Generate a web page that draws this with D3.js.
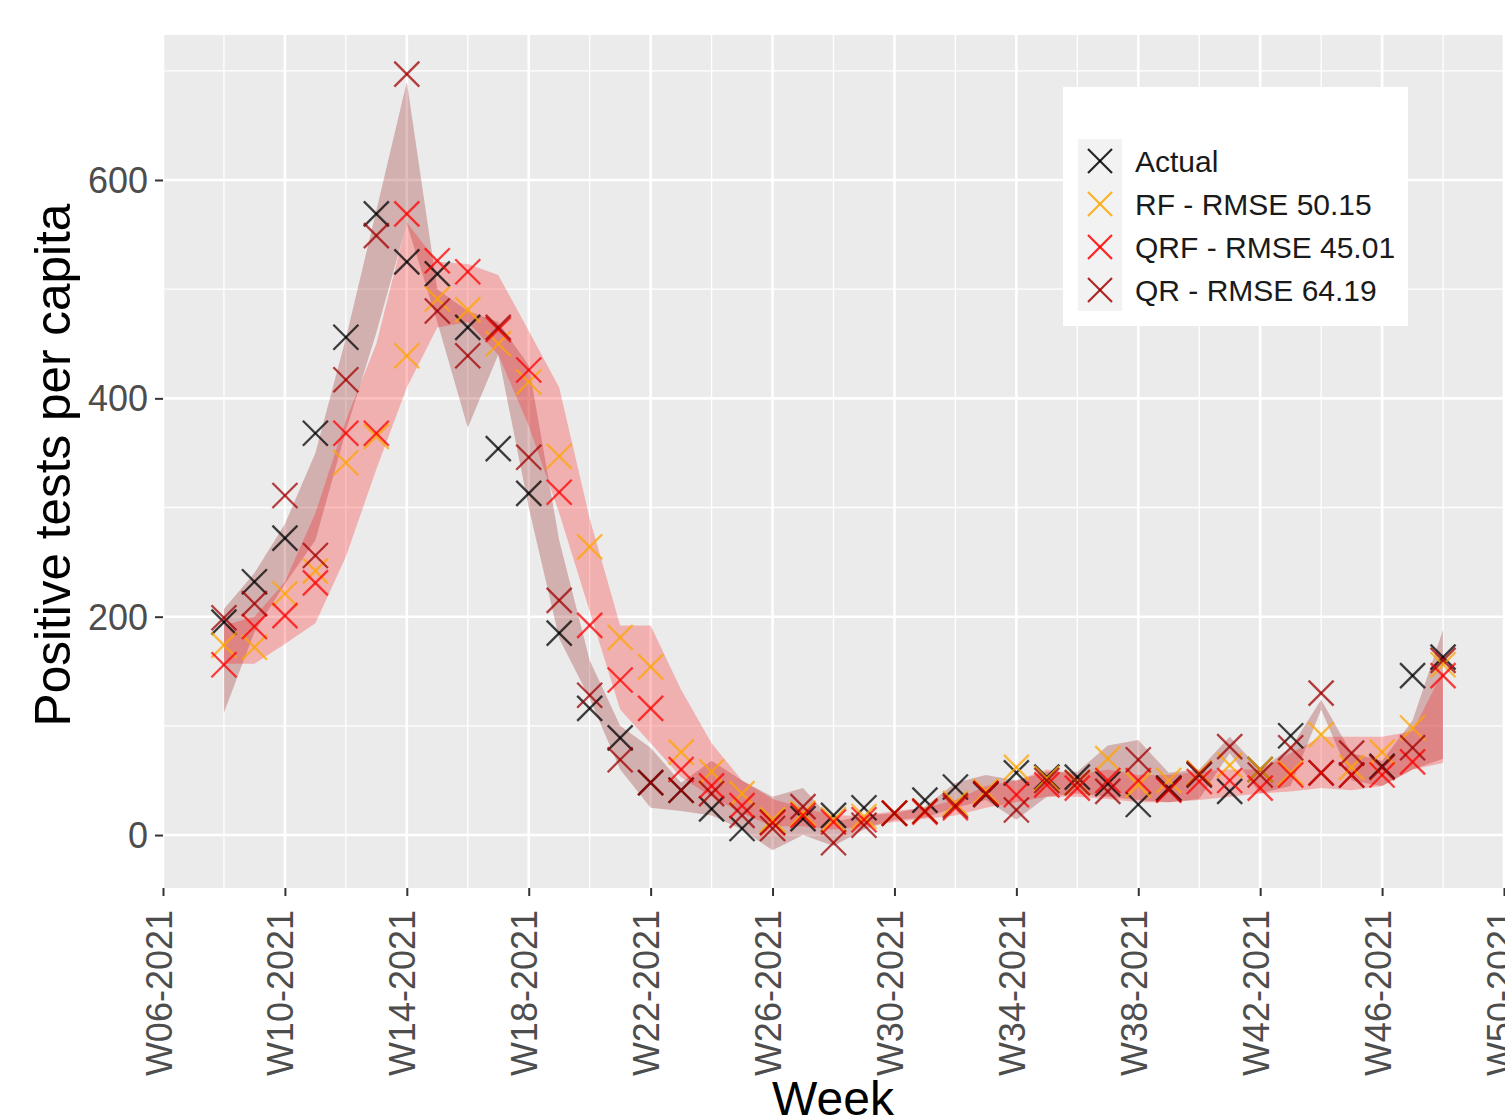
<!DOCTYPE html>
<html><head><meta charset="utf-8">
<script src="https://cdn.jsdelivr.net/npm/d3@7"></script>
<style>
body{margin:0;background:#fff;}
svg{display:block;font-family:"Liberation Sans",Arial,Helvetica,sans-serif;}
</style>
</head><body>
<svg id="chart" width="1505" height="1120"></svg>
<script>
// ---- data ----
const weeks = [8,9,10,11,12,13,14,15,16,17,18,19,20,21,22,23,24,25,26,27,28,29,30,31,32,33,34,35,36,37,38,39,40,41,42,43,44,45,46,47,48];
const actual = [195,232,272,368,456,569,525,514,465,354,313,185,116,89,48,41,24,6,12,15,18,25,20,32,44,37,57,53,53,47,28,43,55,40,60,91,57,55,63,146,163];
const rf     = [174,172,221,242,341,365,439,491,481,450,415,347,264,181,154,76,58,38,14,20,14,17,20,22,29,40,62,52,48,70,46,50,57,64,60,57,92,62,76,98,156];
const qrf    = [156,191,201,231,368,368,569,526,516,463,426,314,192,142,116,60,45,27,11,18,12,14,20,21,25,38,37,46,43,50,50,41,49,50,43,55,57,55,55,67,146];
const qr     = [199,212,311,256,417,549,697,480,439,465,346,215,128,69,48,41,38,18,6,26,-7,9,20,22,27,38,23,50,48,40,69,42,56,81,55,80,130,75,62,80,160];
// QRF prediction interval
const qrfLo  = [157,157,175,194,255,335,410,465,470,440,375,295,205,115,84,53,35,20,8,8,5,8,12,15,18,25,30,35,35,33,30,30,32,35,38,40,43,41,45,60,66];
const qrfHi  = [192,200,232,295,380,450,561,525,523,513,462,410,290,192,192,133,84,50,33,25,18,18,22,25,32,45,50,60,55,60,55,55,58,60,60,75,90,90,90,95,150];
// QR prediction interval
const qrLo   = [112,186,230,270,370,460,560,470,373,440,300,180,125,60,25,22,18,5,-14,0,-10,5,14,16,25,32,14,35,38,35,32,30,33,75,38,45,115,50,45,60,70];
const qrHi   = [207,240,285,350,455,572,690,500,480,470,430,270,160,100,80,48,68,50,35,43,12,18,20,26,48,55,50,58,58,82,87,57,60,90,60,80,124,75,68,105,188];
const xTicks = [6,10,14,18,22,26,30,34,38,42,46,50];
const yTicks = [0,200,400,600];
const legendLabels = ["Actual","RF - RMSE 50.15","QRF - RMSE 45.01","QR - RMSE 64.19"];
const seriesColors = ["#000000","#FFA500","#FF0000","#A00000"];

// ---- layout ----
const svg = d3.select("#chart");
const L = 163, R = 1504, T = 35, B = 888;
const x = d3.scaleLinear().domain([6,50]).range([L,R]);
const y = d3.scaleLinear().domain([-48.5,732.8]).range([B,T]);

// panel
svg.append("rect").attr("x",L).attr("y",T).attr("width",1505-L).attr("height",B-T).attr("fill","#EBEBEB");

const g = svg.append("g");
// minor grid
const xMinor = xTicks.slice(0,-1).map(v=>v+2);
const yMinor = [100,300,500,700];
g.selectAll(".xmin").data(xMinor).join("line")
  .attr("x1",d=>x(d)).attr("x2",d=>x(d)).attr("y1",T).attr("y2",B)
  .attr("stroke","#fff").attr("stroke-width",1.3);
g.selectAll(".ymin").data(yMinor).join("line")
  .attr("x1",L).attr("x2",1505).attr("y1",d=>y(d)).attr("y2",d=>y(d))
  .attr("stroke","#fff").attr("stroke-width",1.3);
// major grid
g.selectAll(".xmaj").data(xTicks).join("line")
  .attr("x1",d=>x(d)).attr("x2",d=>x(d)).attr("y1",T).attr("y2",B)
  .attr("stroke","#fff").attr("stroke-width",2.6);
g.selectAll(".ymaj").data(yTicks).join("line")
  .attr("x1",L).attr("x2",1505).attr("y1",d=>y(d)).attr("y2",d=>y(d))
  .attr("stroke","#fff").attr("stroke-width",2.6);

// ribbons
const idx = weeks.map((w,i)=>i);
const areaQR = d3.area().x(i=>x(weeks[i])).y0(i=>y(qrLo[i])).y1(i=>y(qrHi[i]));
const areaQRF = d3.area().x(i=>x(weeks[i])).y0(i=>y(qrfLo[i])).y1(i=>y(qrfHi[i]));
g.append("path").attr("d",areaQR(idx)).attr("fill","#8B0000").attr("fill-opacity",0.25);
g.append("path").attr("d",areaQRF(idx)).attr("fill","#FF0000").attr("fill-opacity",0.25);

// points (X shape)
function cross(sel, r){
  sel.append("line").attr("x1",-r).attr("y1",-r).attr("x2",r).attr("y2",r);
  sel.append("line").attr("x1",-r).attr("y1",r).attr("x2",r).attr("y2",-r);
}
const series = [actual, rf, qrf, qr];
series.forEach((vals,k)=>{
  const pts = g.append("g").attr("stroke",seriesColors[k]).attr("stroke-width",2.3)
    .attr("stroke-opacity",0.75).attr("fill","none");
  pts.selectAll("g").data(idx).join("g")
    .attr("transform",i=>`translate(${x(weeks[i])},${y(vals[i])})`)
    .each(function(){ cross(d3.select(this),12.5); });
});

// axes
const fmt = d=>"W"+String(d).padStart(2,"0")+"-2021";
const xAxis = svg.append("g").attr("transform",`translate(0,${B})`)
  .call(d3.axisBottom(x).tickValues(xTicks).tickFormat(fmt).tickSizeOuter(0).tickSize(8).tickPadding(0));
xAxis.select(".domain").remove();
xAxis.selectAll(".tick line").attr("stroke","#333").attr("stroke-width",2);
xAxis.selectAll(".tick text")
  .attr("font-size",36).attr("fill","#4D4D4D")
  .attr("text-anchor","end").attr("dy",null)
  .attr("transform","translate(8,22) rotate(-90)")
  .attr("x",0).attr("y",0);

const yAxis = svg.append("g").attr("transform",`translate(${L},0)`)
  .call(d3.axisLeft(y).tickValues(yTicks).tickSizeOuter(0).tickSize(8).tickPadding(7));
yAxis.select(".domain").remove();
yAxis.selectAll(".tick line").attr("stroke","#333").attr("stroke-width",2);
yAxis.selectAll(".tick text").attr("font-size",36).attr("fill","#4D4D4D").attr("dy","0.35em");

// titles
svg.append("text").attr("x",833).attr("y",1115).attr("text-anchor","middle")
  .attr("font-size",48).attr("fill","#000").text("Week");
svg.append("text").attr("transform","translate(70,465) rotate(-90)").attr("text-anchor","middle")
  .attr("font-size",49.5).attr("fill","#000").text("Positive tests per capita");

// legend
const lg = svg.append("g");
lg.append("rect").attr("x",1063).attr("y",87).attr("width",345).attr("height",239).attr("fill","#fff");
lg.append("rect").attr("x",1078).attr("y",139).attr("width",44).attr("height",172).attr("fill","#F2F2F2");
legendLabels.forEach((lab,k)=>{
  const cy = 161 + k*43;
  const kg = lg.append("g").attr("transform",`translate(1100,${cy})`)
    .attr("stroke",seriesColors[k]).attr("stroke-width",2.2).attr("stroke-opacity",0.85);
  cross(kg,12);
  lg.append("text").attr("x",1135).attr("y",cy+11).attr("font-size",30).attr("fill","#1A1A1A").text(lab);
});
</script>
</body></html>
